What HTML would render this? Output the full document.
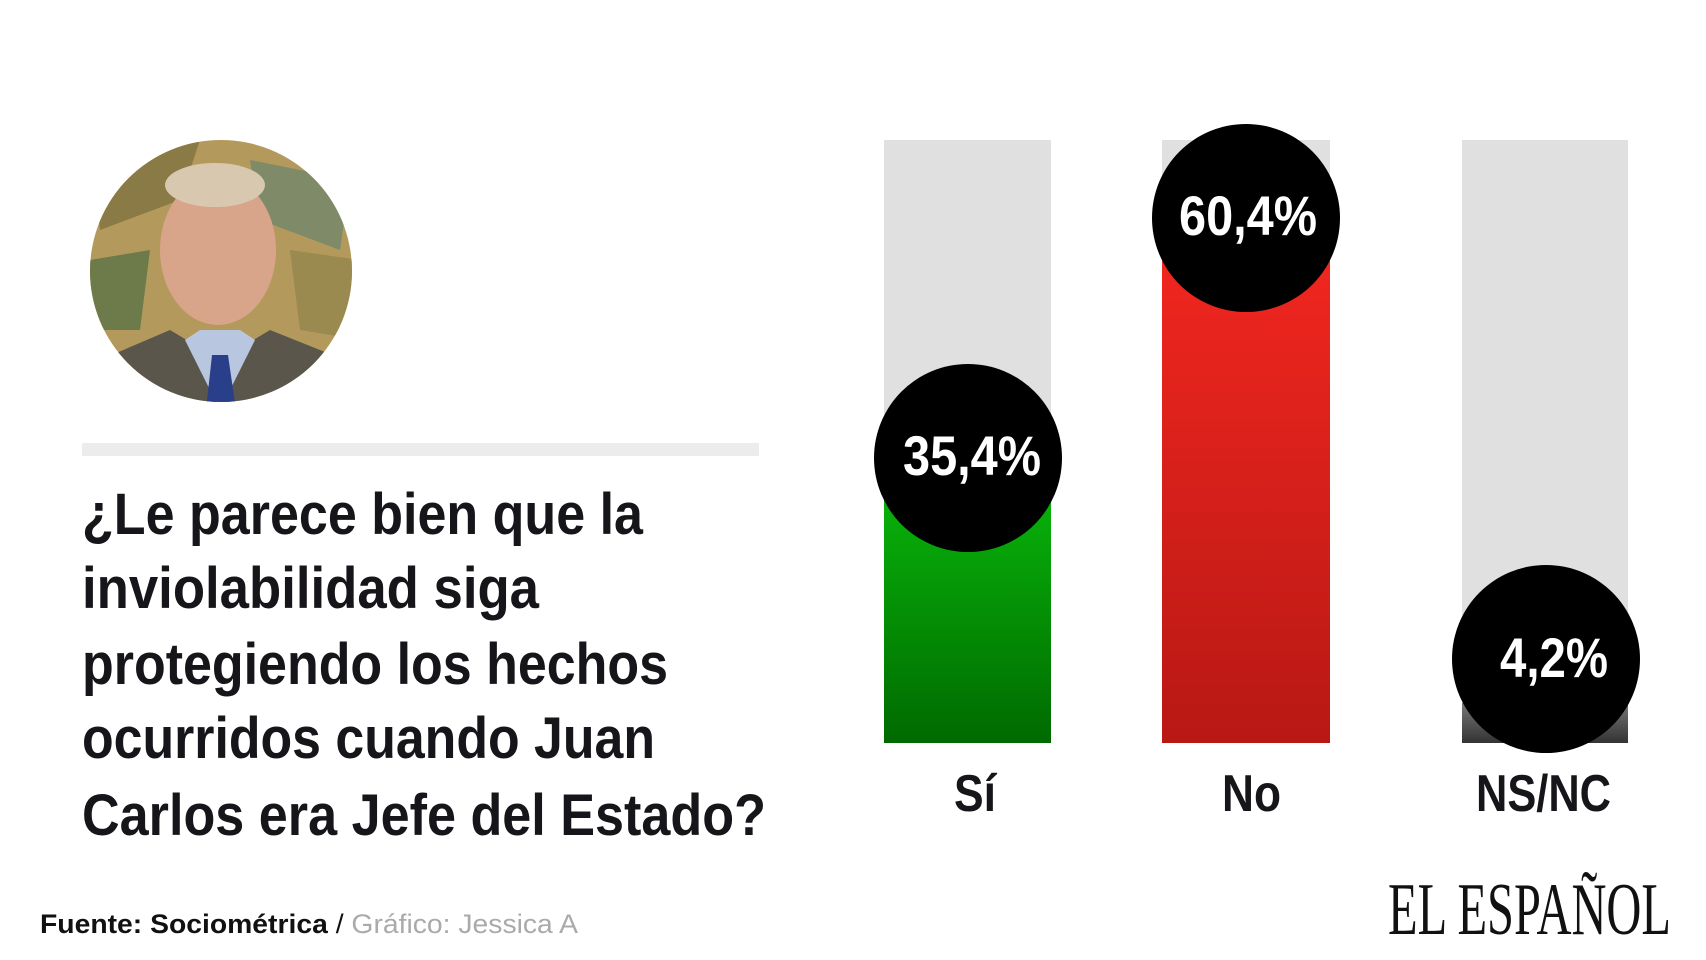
<!DOCTYPE html>
<html><head><meta charset="utf-8"><style>html,body{margin:0;padding:0;background:#fff}svg{display:block}</style></head>
<body>
<svg width="1706" height="960" viewBox="0 0 1706 960" xmlns="http://www.w3.org/2000/svg">
<defs>
<linearGradient id="g" x1="0" y1="0" x2="0" y2="1"><stop offset="0" stop-color="#08b00a"/><stop offset="1" stop-color="#006a00"/></linearGradient>
<linearGradient id="r" x1="0" y1="0" x2="0" y2="1"><stop offset="0" stop-color="#f0261f"/><stop offset="1" stop-color="#b81814"/></linearGradient>
<linearGradient id="k" x1="0" y1="0" x2="0" y2="1"><stop offset="0" stop-color="#777"/><stop offset="1" stop-color="#333"/></linearGradient>
<clipPath id="cc"><circle cx="221" cy="271" r="131"/></clipPath>
</defs>
<g clip-path="url(#cc)">
<rect x="80" y="130" width="290" height="290" fill="#b39a5c"/>
<path d="M90 150 L200 140 L180 200 L100 230Z" fill="#8a7a45"/>
<path d="M250 160 L350 180 L340 250 L260 220Z" fill="#7e8a68"/>
<path d="M90 260 L150 250 L140 330 L90 330Z" fill="#6d7a4a"/>
<path d="M290 250 L360 260 L360 340 L300 330Z" fill="#9a8a50"/>
<ellipse cx="218" cy="250" rx="58" ry="75" fill="#d9a58a"/>
<ellipse cx="215" cy="185" rx="50" ry="22" fill="#d8c8b0"/>
<path d="M80 420 L100 360 L170 330 L220 360 L270 330 L345 360 L360 420Z" fill="#5a564c"/>
<path d="M185 340 L220 410 L255 340 L240 330 L200 330Z" fill="#b8c6e0"/>
<path d="M212 355 L228 355 L236 410 L206 410Z" fill="#2a3f8a"/>
</g>
<rect x="82" y="443" width="677" height="13" fill="#ececec"/>
<g font-family="Liberation Sans, sans-serif" font-weight="bold" font-size="58" fill="#15151a">
<text x="82" y="534" textLength="561" lengthAdjust="spacingAndGlyphs">¿Le parece bien que la</text>
<text x="82" y="608" textLength="457" lengthAdjust="spacingAndGlyphs">inviolabilidad siga</text>
<text x="82" y="684" textLength="586" lengthAdjust="spacingAndGlyphs">protegiendo los hechos</text>
<text x="82" y="758" textLength="573" lengthAdjust="spacingAndGlyphs">ocurridos cuando Juan</text>
<text x="82" y="835" textLength="684" lengthAdjust="spacingAndGlyphs">Carlos era Jefe del Estado?</text>
</g>
<text x="40" y="933" font-family="Liberation Sans, sans-serif" font-size="27" textLength="538" lengthAdjust="spacingAndGlyphs"><tspan font-weight="bold" fill="#111">Fuente: Sociométrica</tspan><tspan fill="#111"> / </tspan><tspan fill="#aaa">Gráfico: Jessica A</tspan></text>
<text x="1388" y="934" font-family="Liberation Serif, serif" font-size="74" fill="#111" textLength="283" lengthAdjust="spacingAndGlyphs">EL ESPAÑOL</text>
<rect x="884" y="140" width="167" height="603" fill="#e0e0e0"/>
<rect x="1162" y="140" width="168" height="603" fill="#e0e0e0"/>
<rect x="1462" y="140" width="166" height="603" fill="#e0e0e0"/>
<rect x="884" y="500" width="167" height="243" fill="url(#g)"/>
<rect x="1162" y="260" width="168" height="483" fill="url(#r)"/>
<rect x="1462" y="703" width="166" height="40" fill="url(#k)"/>
<circle cx="968" cy="458" r="94" fill="#000"/>
<circle cx="1246" cy="218" r="94" fill="#000"/>
<circle cx="1546" cy="659" r="94" fill="#000"/>
<g font-family="Liberation Sans, sans-serif" font-weight="bold" font-size="56" fill="#fff">
<text x="903" y="475" textLength="138" lengthAdjust="spacingAndGlyphs">35,4%</text>
<text x="1179" y="235" textLength="138" lengthAdjust="spacingAndGlyphs">60,4%</text>
<text x="1500" y="677" textLength="108" lengthAdjust="spacingAndGlyphs">4,2%</text>
</g>
<g font-family="Liberation Sans, sans-serif" font-weight="bold" font-size="52" fill="#15151a">
<text x="954" y="811" textLength="42" lengthAdjust="spacingAndGlyphs">Sí</text>
<text x="1222" y="811" textLength="59" lengthAdjust="spacingAndGlyphs">No</text>
<text x="1476" y="811" textLength="135" lengthAdjust="spacingAndGlyphs">NS/NC</text>
</g>
</svg>
</body></html>
